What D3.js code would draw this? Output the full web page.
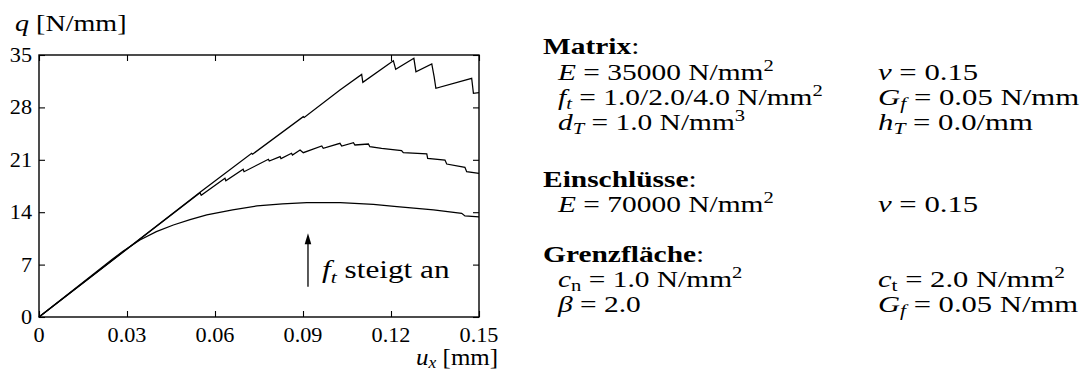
<!DOCTYPE html>
<html>
<head>
<meta charset="utf-8">
<script src="https://cdn.jsdelivr.net/npm/d3@7"></script>
<style>
  html, body { margin: 0; padding: 0; background: #fff; }
  svg { display: block; }
  text { font-family: "Liberation Serif", "Times New Roman", serif; fill: #000; }
</style>
</head>
<body>
<svg id="chart" width="1085" height="371"></svg>
<script>
// ---------- data ----------
const xTicks = [0, 0.03, 0.06, 0.09, 0.12, 0.15];
const xTickLabels = ["0", "0.03", "0.06", "0.09", "0.12", "0.15"];
const yTicks = [0, 7, 14, 21, 28, 35];
const yTickLabels = ["0", "7", "14", "21", "28", "35"];

// f_t = 1.0 N/mm^2
const seriesFt1 = [
  [0, 0], [0.025, 7.7], [0.0285, 8.75], [0.0344, 10.29], [0.040, 11.4], [0.0458, 12.29],
  [0.0515, 13.0], [0.0572, 13.63], [0.066, 14.3], [0.0743, 14.83], [0.083, 15.12],
  [0.0913, 15.27], [0.1027, 15.27], [0.114, 15.05], [0.122, 14.74], [0.1345, 14.3],
  [0.1441, 13.85], [0.1452, 13.5], [0.150, 13.38]
];
// f_t = 2.0 N/mm^2
const seriesFt2 = [
  [0, 0], [0.0549, 16.6], [0.0553, 16.25], [0.0634, 18.53], [0.0637, 18.21],
  [0.0696, 19.73], [0.0699, 19.41], [0.0782, 21.07], [0.0785, 20.84], [0.0822, 21.42],
  [0.0825, 21.15], [0.0861, 21.87], [0.0864, 21.64], [0.0890, 22.31], [0.0901, 21.95],
  [0.0964, 22.84], [0.0969, 22.53], [0.1026, 23.2], [0.1032, 22.84], [0.1072, 23.29],
  [0.1077, 22.98], [0.1123, 23.11], [0.1128, 22.75], [0.1168, 22.53], [0.1236, 22.22],
  [0.1242, 21.95], [0.1322, 21.78], [0.1325, 21.2], [0.1384, 20.97], [0.1390, 20.44],
  [0.1452, 20.0], [0.1458, 19.41], [0.150, 19.2]
];
// f_t = 4.0 N/mm^2
const seriesFt4 = [
  [0, 0], [0.0549, 16.65], [0.0725, 21.87], [0.0728, 21.75], [0.0901, 26.76], [0.0904, 26.65],
  [0.1026, 30.33], [0.1100, 32.4], [0.1104, 31.35], [0.1208, 34.24], [0.1216, 33.09],
  [0.1278, 34.56], [0.1285, 32.77], [0.1339, 33.8], [0.1347, 32.1], [0.1353, 30.55],
  [0.1475, 31.89], [0.1481, 29.89], [0.150, 29.97]
];

const arrowU = 0.0917, arrowFrom = 4.05, arrowTo = 11.2;

// parameter text: [segment text, style]; styles: i italic, b bold, sup, isub (italic sub), rsub (roman sub)
const headMatrix = [["Matrix", "b"], [":", ""]];
const headEinschluesse = [["Einschlüsse", "b"], [":", ""]];
const headGrenzflaeche = [["Grenzfläche", "b"], [":", ""]];
const matrixLeft = [
  [["E", "i"], [" = 35000 N/mm", ""], ["2", "sup"]],
  [["f", "i"], ["t", "isub"], [" = 1.0/2.0/4.0 N/mm", ""], ["2", "sup"]],
  [["d", "i"], ["T", "isub"], [" = 1.0 N/mm", ""], ["3", "sup"]]
];
const matrixRight = [
  [["ν", "i"], [" = 0.15", ""]],
  [["G", "i"], ["f", "isub"], [" = 0.05 N/mm", ""]],
  [["h", "i"], ["T", "isub"], [" = 0.0/mm", ""]]
];
const inclLeft = [[["E", "i"], [" = 70000 N/mm", ""], ["2", "sup"]]];
const inclRight = [[["ν", "i"], [" = 0.15", ""]]];
const ifaceLeft = [
  [["c", "i"], ["n", "rsub"], [" = 1.0 N/mm", ""], ["2", "sup"]],
  [["β", "i"], [" = 2.0", ""]]
];
const ifaceRight = [
  [["c", "i"], ["t", "rsub"], [" = 2.0 N/mm", ""], ["2", "sup"]],
  [["G", "i"], ["f", "isub"], [" = 0.05 N/mm", ""]]
];

// ---------- layout ----------
const svg = d3.select("#chart");
const plot = { left: 39, right: 479, top: 55, bottom: 317 };
const x = d3.scaleLinear().domain([0, 0.15]).range([plot.left, plot.right]);
const y = d3.scaleLinear().domain([0, 35]).range([plot.bottom, plot.top]);

function mathText(g, px, py, parts, size, sx, subShift) {
  const t = g.append("text").attr("x", 0).attr("y", 0)
    .attr("transform", `translate(${px},${py}) scale(${sx || 1},1)`)
    .attr("font-size", size).style("white-space", "pre");
  const sub = subShift == null ? 0.2 : subShift;
  let shift = 0;
  parts.forEach(([s, st]) => {
    let target = 0, fs = size, italic = false, bold = false;
    if (st === "i") italic = true;
    if (st === "b") bold = true;
    if (st === "sup") { target = -0.4 * size; fs = 0.7 * size; }
    if (st === "isub") { target = sub * size; fs = 0.7 * size; italic = true; }
    if (st === "rsub") { target = sub * size; fs = 0.7 * size; }
    const ts = t.append("tspan").text(s).attr("font-size", fs)
      .attr("dy", target - shift);
    if (italic) ts.attr("font-style", "italic");
    if (bold) ts.attr("font-weight", "bold");
    shift = target;
  });
  return t;
}

// ---------- axes ----------
const tickLen = 6;
const gAxes = svg.append("g");
const axB = d3.axisBottom(x).tickValues(xTicks).tickSize(-tickLen).tickFormat("");
const axT = d3.axisTop(x).tickValues(xTicks).tickSize(-tickLen).tickFormat("");
const axL = d3.axisLeft(y).tickValues(yTicks).tickSize(-tickLen).tickFormat("");
const axR = d3.axisRight(y).tickValues(yTicks).tickSize(-tickLen).tickFormat("");
gAxes.append("g").attr("transform", `translate(0,${plot.bottom})`).call(axB);
gAxes.append("g").attr("transform", `translate(0,${plot.top})`).call(axT);
gAxes.append("g").attr("transform", `translate(${plot.left},0)`).call(axL);
gAxes.append("g").attr("transform", `translate(${plot.right},0)`).call(axR);
gAxes.selectAll(".domain").remove();
gAxes.selectAll(".tick line").attr("stroke", "#000").attr("stroke-width", 1.1);

svg.append("rect")
  .attr("x", plot.left).attr("y", plot.top)
  .attr("width", plot.right - plot.left).attr("height", plot.bottom - plot.top)
  .attr("fill", "none").attr("stroke", "#000").attr("stroke-width", 1.4);

// tick labels
const tickSx = 1.06, tickFs = 21;
svg.append("g").selectAll("text").data(xTicks).join("text")
  .attr("transform", d => `translate(${x(d)},342) scale(${tickSx},1)`)
  .attr("text-anchor", "middle").attr("font-size", tickFs)
  .text((d, i) => xTickLabels[i]);
svg.append("g").selectAll("text").data(yTicks).join("text")
  .attr("transform", d => `translate(${plot.left - 7},${y(d) + 7}) scale(${tickSx},1)`)
  .attr("text-anchor", "end").attr("font-size", tickFs)
  .text((d, i) => yTickLabels[i]);

// axis titles
mathText(svg, 15, 31, [["q", "i"], [" [N/mm]", ""]], 24, 1.17);
mathText(svg, 498, 365, [["u", "i"], ["x", "isub"], [" [mm]", ""]], 24, 1.04, 0.12).attr("text-anchor", "end");

// ---------- curves ----------
const line = d3.line().x(d => x(d[0])).y(d => y(d[1]));
[seriesFt1, seriesFt2, seriesFt4].forEach(s => {
  svg.append("path").datum(s).attr("d", line)
    .attr("fill", "none").attr("stroke", "#000").attr("stroke-width", 1.25)
    .attr("stroke-linejoin", "miter");
});

// ---------- annotation arrow ----------
const ax0 = x(arrowU);
svg.append("line").attr("x1", ax0).attr("x2", ax0)
  .attr("y1", y(arrowFrom)).attr("y2", y(arrowTo) + 8)
  .attr("stroke", "#000").attr("stroke-width", 1.3);
svg.append("path")
  .attr("d", `M${ax0},${y(arrowTo)} L${ax0 - 3.3},${y(arrowTo) + 11} L${ax0 + 3.3},${y(arrowTo) + 11} Z`)
  .attr("fill", "#000");
mathText(svg, 322, 278, [["f", "i"], ["t", "isub"], [" steigt an", ""]], 25, 1.25);

// ---------- parameter panel ----------
const P = svg.append("g");
const fsP = 23, sxP = 1.28;
const colH = 543, colL = 558, colR = 878;
mathText(P, colH, 54, headMatrix, fsP, sxP);
matrixLeft.forEach((r, i) => mathText(P, colL, 80 + i * 25, r, fsP, sxP, 0.16));
matrixRight.forEach((r, i) => mathText(P, colR, 80 + i * 25, r, fsP, sxP * 1.045, 0.16));
mathText(P, colH, 187, headEinschluesse, fsP, sxP);
inclLeft.forEach((r, i) => mathText(P, colL, 212 + i * 25, r, fsP, sxP, 0.16));
inclRight.forEach((r, i) => mathText(P, colR, 212 + i * 25, r, fsP, sxP * 1.045, 0.16));
mathText(P, colH, 262, headGrenzflaeche, fsP, sxP);
ifaceLeft.forEach((r, i) => mathText(P, colL, 287 + i * 25, r, fsP, sxP, 0.16));
ifaceRight.forEach((r, i) => mathText(P, colR, 287 + i * 25, r, fsP, sxP * 1.04, 0.16));
</script>
</body>
</html>
